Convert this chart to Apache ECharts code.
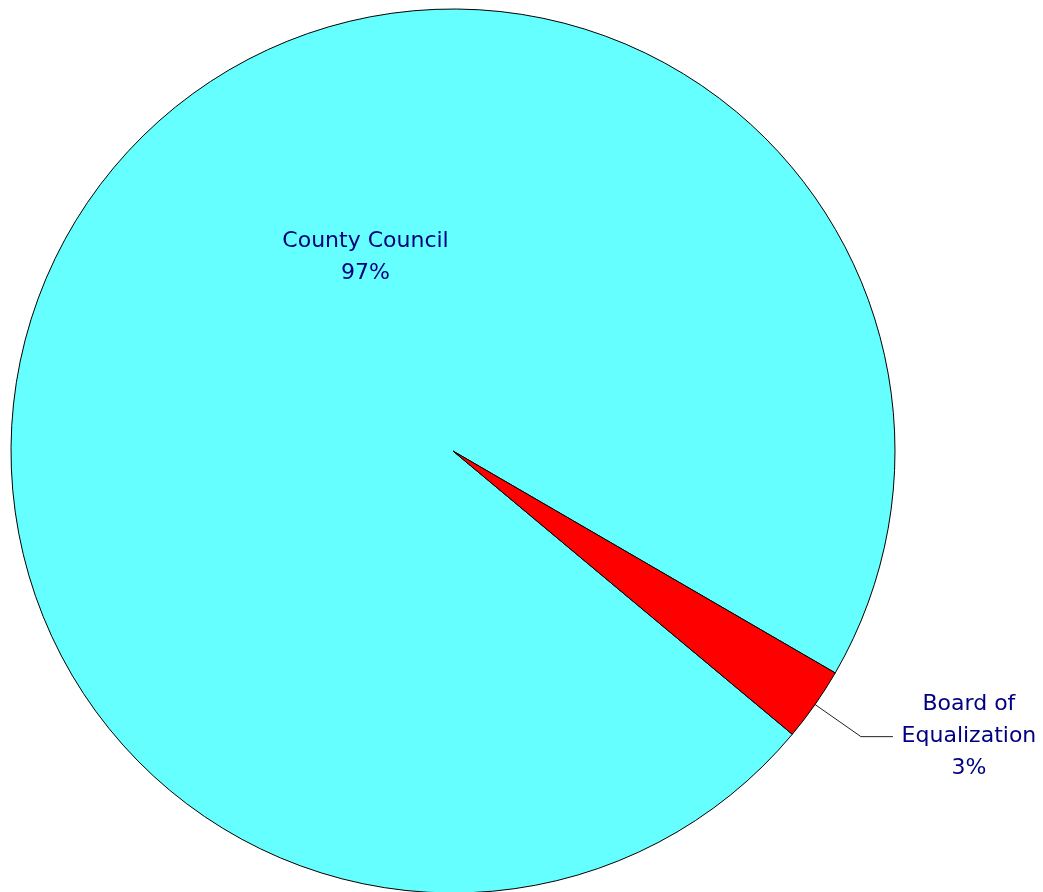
<!DOCTYPE html>
<html>
<head>
<meta charset="utf-8">
<script src="https://cdn.jsdelivr.net/npm/echarts@6/dist/echarts.min.js"></script>
<style>
  html, body { margin: 0; padding: 0; background: #fff; }
  #chart { width: 1043px; height: 892px; }
</style>
</head>
<body>
<div id="chart"></div>
<script>
const categories = ["County Council", "Board of Equalization"];
const values = [97.3, 2.7];
const colors = ["#66ffff", "#ff0000"];

const myChart = echarts.init(document.getElementById("chart"));

const pct = (p) => Math.round(p.percent) + "%";

myChart.setOption({
  animation: false,
  textStyle: { fontFamily: "DejaVu Sans", color: "#000080" },
  series: [
    {
      type: "pie",
      center: [453, 451],
      radius: [0, 442],
      startAngle: 320.14,
      clockwise: true,
      avoidLabelOverlap: false,
      itemStyle: { borderColor: "#000", borderWidth: 1 },
      label: { fontSize: 22, color: "#000080", lineHeight: 32 },
      data: [
        {
          name: categories[0],
          value: values[0],
          itemStyle: { color: colors[0] },
          label: {
            position: "inside",
            offset: [96, -65],
            formatter: (p) => p.name + "\n" + pct(p),
          },
          labelLine: { show: false },
        },
        {
          name: categories[1],
          value: values[1],
          itemStyle: { color: colors[1] },
          label: {
            position: "outside",
            distance: 4,
            formatter: (p) => "{c|Board of}\n{c|Equalization}\n{c|" + pct(p) + "}",
            rich: {
              c: { width: 142, align: "center", fontSize: 22, lineHeight: 32, color: "#000080", fontFamily: "DejaVu Sans" },
            },
          },
          labelLine: {
            show: true,
            length: 56,
            length2: 32,
            lineStyle: { color: "#222", width: 1 },
          },
        },
      ],
    },
  ],
});
</script>
</body>
</html>
